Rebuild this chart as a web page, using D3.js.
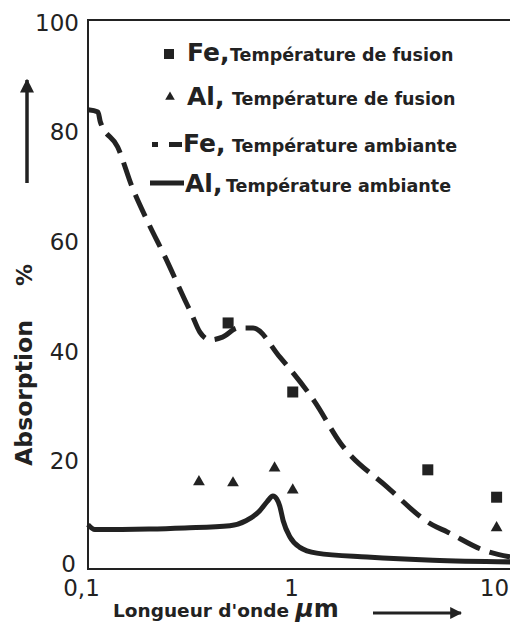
<!DOCTYPE html>
<html>
<head>
<meta charset="utf-8">
<script src="https://cdn.jsdelivr.net/npm/d3@7"></script>
<style>
  body { margin: 0; background: #fff; }
  text { font-family: 'DejaVu Sans', sans-serif; fill: #222; }
</style>
</head>
<body>
<div class="graph"><svg></svg></div>
<script>
// wavelength (um) and absorption (%)
const feAmbientX = [0.1, 0.112, 0.115, 0.14, 0.165, 0.195, 0.24, 0.30, 0.325, 0.356, 0.40, 0.46, 0.55, 0.65, 0.88, 1.31, 1.75, 2.97, 5.0, 5.86, 8.8, 12]
const feAmbientY = [83.8, 83.4, 81.6, 77.0, 69.7, 63.7, 56.9, 49.1, 46.4, 43.2, 41.8, 42.3, 44.0, 44.0, 38.7, 30.5, 23.0, 15.0, 8.0, 6.8, 3.5, 2.2]

const alAmbientX = [0.1, 0.108, 0.2, 0.3, 0.5, 0.6, 0.7, 0.763, 0.815, 0.85, 0.88, 0.915, 0.99, 1.1, 1.34, 2.37, 5, 12]
const alAmbientY = [8.1, 7.2, 7.3, 7.5, 7.9, 8.8, 10.6, 12.3, 13.3, 12.8, 11.5, 8.8, 5.8, 4.0, 2.9, 2.2, 1.6, 1.3]

const feFusionX = [0.49, 1.02, 4.72, 10.3]
const feFusionY = [44.9, 32.3, 18.1, 13.1]

const alFusionX = [0.352, 0.518, 0.83, 1.02, 10.3]
const alFusionY = [15.9, 15.7, 18.4, 14.4, 7.5]

const yTicks = [0, 20, 40, 60, 80, 100]
const xTicks = [0.1, 1, 10]
const xTickLabels = ['0,1', '1', '10']

const ink = '#222'
const width = 510
const height = 624
const plotLeft = 88
const plotTop = 20
const plotBottom = 569

const svg = d3.select('.graph').select('svg')
  .attr('width', width)
  .attr('height', height)

const x = d3.scaleLog().domain([0.1, 10]).range([plotLeft, 494])
const y = d3.scaleLinear().domain([0, 100]).range([plotBottom, plotTop + 1])

/**
 * Draws the three visible sides of the frame.
 */
function drawFrame () {
  svg.append('path')
    .attr('d', 'M' + width + ',' + plotTop + 'H' + plotLeft + 'V' + plotBottom + 'H' + width)
    .attr('fill', 'none')
    .attr('stroke', ink)
    .attr('stroke-width', 2)
}

/**
 * Draws the tick labels of both axes (no tick marks in the original).
 */
function drawAxes () {
  const yAxis = d3.axisLeft(y).tickValues(yTicks).tickSize(0).tickPadding(9)
  svg.append('g')
    .attr('transform', 'translate(' + plotLeft + ',0)')
    .call(yAxis)
    .call(g => g.select('.domain').remove())
    .selectAll('text')
    .attr('font-size', 23)
    .attr('font-family', 'DejaVu Sans')
    .attr('fill', ink)
    .attr('dx', d => d === 0 ? -3 : 0)
    .attr('dy', d => d === 0 ? '0.1em' : '0.4em')

  const xAxis = d3.axisBottom(x).tickValues(xTicks).tickSize(0).tickPadding(11)
    .tickFormat((d, i) => xTickLabels[i])
  svg.append('g')
    .attr('transform', 'translate(0,' + plotBottom + ')')
    .call(xAxis)
    .call(g => g.select('.domain').remove())
    .selectAll('text')
    .attr('font-size', 23)
    .attr('font-family', 'DejaVu Sans')
    .attr('fill', ink)
    .attr('dx', (d, i) => i === 0 ? -7 : 0)
}

/**
 * Axis titles and the two arrows.
 */
function drawLabels () {
  svg.append('defs').append('marker')
    .attr('id', 'head')
    .attr('viewBox', '0 0 10 10')
    .attr('refX', 9).attr('refY', 5)
    .attr('markerWidth', 4).attr('markerHeight', 4)
    .attr('orient', 'auto')
    .append('path')
    .attr('d', 'M0,0L10,5L0,10z')
    .attr('fill', ink)

  svg.append('line')
    .attr('x1', 27).attr('y1', 183).attr('x2', 27).attr('y2', 80)
    .attr('stroke', ink).attr('stroke-width', 3.5)
    .attr('marker-end', 'url(#head)')

  svg.append('text')
    .text('%')
    .attr('transform', 'translate(24,275) rotate(-90)')
    .attr('text-anchor', 'middle').attr('dy', '0.35em')
    .attr('font-size', 22).attr('font-weight', 'bold')

  svg.append('text')
    .text('Absorption')
    .attr('transform', 'translate(24,393) rotate(-90)')
    .attr('text-anchor', 'middle').attr('dy', '0.35em')
    .attr('font-size', 23.5).attr('font-weight', 'bold')

  const xl = svg.append('text')
    .attr('x', 113).attr('y', 617)
    .attr('font-weight', 'bold')
  xl.append('tspan').text('Longueur d\'onde ').attr('font-size', 18.5)
  xl.append('tspan').text('μ').attr('font-size', 25).attr('font-style', 'italic')
  xl.append('tspan').text('m').attr('font-size', 24)

  svg.append('line')
    .attr('x1', 373).attr('y1', 613).attr('x2', 461).attr('y2', 613)
    .attr('stroke', ink).attr('stroke-width', 3)
    .attr('marker-end', 'url(#head)')
}

/**
 * The two measured curves and the two point series.
 */
function drawSeries () {
  const line = d3.line()
    .x(d => x(d[0]))
    .y(d => y(d[1]))
    .curve(d3.curveMonotoneX)

  svg.append('path')
    .datum(d3.zip(alAmbientX, alAmbientY))
    .attr('d', line)
    .attr('fill', 'none')
    .attr('stroke', ink)
    .attr('stroke-width', 5)

  svg.append('path')
    .datum(d3.zip(feAmbientX, feAmbientY))
    .attr('d', line)
    .attr('fill', 'none')
    .attr('stroke', ink)
    .attr('stroke-width', 5)
    .attr('stroke-dasharray', '24,10')

  svg.append('g')
    .selectAll('rect')
    .data(d3.zip(feFusionX, feFusionY))
    .join('rect')
    .attr('x', d => x(d[0]) - 5.5)
    .attr('y', d => y(d[1]) - 5.5)
    .attr('width', 11)
    .attr('height', 11)
    .attr('fill', ink)

  const tri = d3.symbol().type(d3.symbolTriangle).size(60)
  svg.append('g')
    .selectAll('path')
    .data(d3.zip(alFusionX, alFusionY))
    .join('path')
    .attr('transform', d => 'translate(' + x(d[0]) + ',' + y(d[1]) + ')')
    .attr('d', tri)
    .attr('fill', ink)
}

/**
 * Legend in the upper right, four rows.
 */
function drawLegend () {
  const g = svg.append('g')
  const rows = [
    { y: 61, metal: 'Fe,', mx: 187, label: 'Température de fusion', lx: 230 },
    { y: 105, metal: 'Al,', mx: 187, label: 'Température de fusion', lx: 232 },
    { y: 152, metal: 'Fe,', mx: 183, label: 'Température ambiante', lx: 232 },
    { y: 192, metal: 'Al,', mx: 185, label: 'Température ambiante', lx: 226 }
  ]
  rows.forEach(r => {
    g.append('text').text(r.metal)
      .attr('x', r.mx).attr('y', r.y)
      .attr('font-size', 25).attr('font-weight', 'bold')
    g.append('text').text(r.label)
      .attr('x', r.lx).attr('y', r.y)
      .attr('font-size', 17.5).attr('font-weight', 'bold')
  })

  g.append('rect').attr('x', 164).attr('y', 49).attr('width', 10).attr('height', 10).attr('fill', ink)
  g.append('path')
    .attr('transform', 'translate(170,97)')
    .attr('d', d3.symbol().type(d3.symbolTriangle).size(40))
    .attr('fill', ink)
  g.append('rect').attr('x', 152).attr('y', 142).attr('width', 6).attr('height', 5).attr('fill', ink)
  g.append('rect').attr('x', 169).attr('y', 142).attr('width', 13).attr('height', 5).attr('fill', ink)
  g.append('line')
    .attr('x1', 150).attr('y1', 183).attr('x2', 184).attr('y2', 183)
    .attr('stroke', ink).attr('stroke-width', 5)
}

drawFrame()
drawSeries()
drawAxes()
drawLabels()
drawLegend()
</script>
</body>
</html>
